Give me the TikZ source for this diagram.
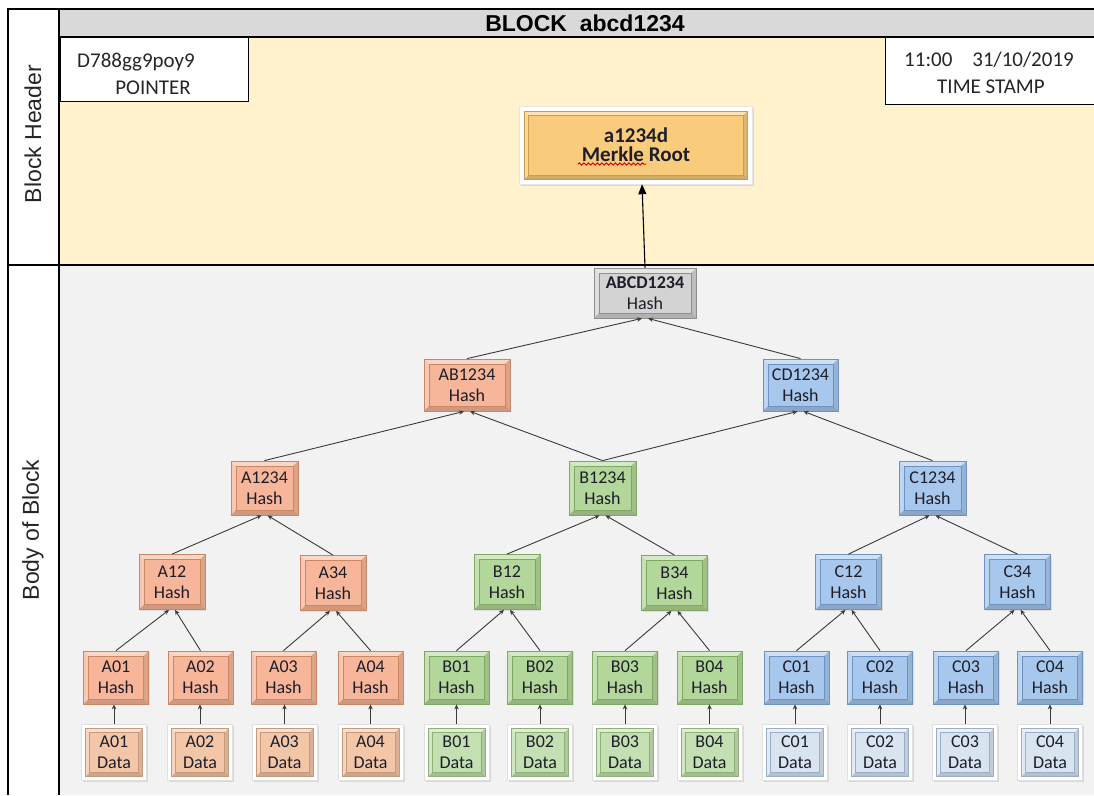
\documentclass[tikz,border=0pt]{standalone}
\usepackage{fontspec}
\setmainfont{Carlito}
\newfontfamily\arialf{Liberation Sans}
\usetikzlibrary{arrows.meta,shadows,calc,decorations.pathmorphing}

\definecolor{titlegray}{HTML}{D9D9D9}
\definecolor{headcream}{HTML}{FFF2CC}
\definecolor{bodygray}{HTML}{F2F2F2}
\definecolor{orH}{HTML}{F7B699}
\definecolor{orE}{HTML}{C98763}
\definecolor{orD}{HTML}{F3C6A8}
\definecolor{orDE}{HTML}{C49A7E}
\definecolor{grH}{HTML}{B3D69A}
\definecolor{grE}{HTML}{7FA863}
\definecolor{grD}{HTML}{C4DFB2}
\definecolor{grDE}{HTML}{8FB078}
\definecolor{blH}{HTML}{A7C8EC}
\definecolor{blE}{HTML}{6E93C2}
\definecolor{blD}{HTML}{D9E4F1}
\definecolor{blDE}{HTML}{9AAEC6}
\definecolor{gyH}{HTML}{D3D3D3}
\definecolor{gyE}{HTML}{8F8F8F}
\definecolor{mrk}{HTML}{F8CC7C}
\definecolor{mrkE}{HTML}{C99C4E}
\definecolor{linec}{HTML}{3A3A3A}
\definecolor{txt}{HTML}{1E1E2A}

% bevelled face: #1 inset from the node border, #2 bevel width, #3 face colour, #4 edge colour
\newcommand\bevelfaces[4]{%
  \coordinate (bsw) at ([shift={(#1pt,#1pt)}]path picture bounding box.south west);
  \coordinate (bne) at ([shift={(-#1pt,-#1pt)}]path picture bounding box.north east);
  \coordinate (bnw) at (bsw|-bne);
  \coordinate (bse) at (bne|-bsw);
  \coordinate (isw) at ([shift={(#2pt,#2pt)}]bsw);
  \coordinate (ine) at ([shift={(-#2pt,-#2pt)}]bne);
  \coordinate (inw) at (isw|-ine);
  \coordinate (ise) at (ine|-isw);
  \fill[#3] (bsw) rectangle (bne);
  \fill[white,opacity=.45] (bnw)--(bne)--(ine)--(inw)--cycle;
  \fill[white,opacity=.25] (bnw)--(bsw)--(isw)--(inw)--cycle;
  \fill[black,opacity=.16] (bsw)--(bse)--(ise)--(isw)--cycle;
  \fill[black,opacity=.10] (bse)--(bne)--(ine)--(ise)--cycle;
  \draw[#4,line width=.5pt] (isw) rectangle (ine);
  \draw[#4,line width=.8pt] (bsw) rectangle (bne);
}

\begin{document}
\begin{tikzpicture}[x=1pt,y=-1pt,
  tree/.style={rectangle, align=center, inner sep=0pt, text=txt,
    font=\fontsize{18}{21}\selectfont},
  bev/.style n args={4}{tree, fill=#1, draw=#2, line width=.8pt,
    minimum width=#3, minimum height=#4,
    drop shadow={shadow xshift=1pt, shadow yshift=-1pt, opacity=.18},
    path picture={\bevelfaces{0}{5}{#1}{#2}}},
  dat/.style 2 args={tree, fill=white, draw=black!12, line width=.4pt,
    minimum width=65, minimum height=56,
    drop shadow={shadow xshift=1.5pt, shadow yshift=-1.5pt, opacity=.22},
    path picture={\bevelfaces{4}{4}{#1}{#2}}},
  link/.style={draw=linec, line width=.9pt, -{Stealth[length=5pt,width=4.5pt]}},
  rootlink/.style={draw=black, line width=1.1pt, -{Triangle[length=10pt,width=8pt]}},
  frame/.style={line width=1.3pt},
  boxtext/.style={inner sep=0pt, font=\fontsize{21}{24}\selectfont, text=black!85},
  sidelabel/.style={rotate=90, font=\arialf\fontsize{23}{26}\selectfont, text=black!85}
]
\useasboundingbox (0,0) rectangle (1094,795);

% panels of the block
\fill[white] (0,0) rectangle (1094,795);
\fill[titlegray] (59,9) rectangle (1094,37);
\fill[headcream] (59,37) rectangle (1094,265);
\fill[bodygray] (59,265) rectangle (1094,795);
\draw[line width=2pt] (8,795) -- (8,9) -- (1094,9);
\draw[frame] (59,9) -- (59,795);
\draw[frame] (59,37) -- (1094,37);
\draw[frame] (8,265) -- (1094,265);

\node[font=\arialf\bfseries\fontsize{23}{26}\selectfont] (title) at (585,23) {BLOCK\ \ abcd1234};
\node[sidelabel] (hdrlabel) at (33,134) {Block Header};
\node[sidelabel] (bodylabel) at (33,530) {Body of Block};

% pointer and time stamp fields
\node[draw, line width=1pt, fill=white, minimum width=188, minimum height=64,
  anchor=north west, inner sep=0pt] (ptr) at (60,37) {};
\node[boxtext, anchor=base west] (ptrid) at (77,67) {D788gg9poy9};
\node[boxtext, anchor=base] (ptrlabel) at (153,94) {POINTER};
\node[draw, line width=1pt, fill=white, minimum width=210, minimum height=67,
  anchor=north west, inner sep=0pt] (ts) at (885,37) {};
\node[boxtext, anchor=base] (tstime) at (989,66) {11:00\hspace{20pt}31/10/2019};
\node[boxtext, anchor=base] (tslabel) at (991,93) {TIME STAMP};

% Merkle root
\node[tree, fill=white, draw=black!10, line width=.4pt, minimum width=233, minimum height=78,
  drop shadow={shadow xshift=1.5pt, shadow yshift=-1.5pt, opacity=.22},
  path picture={\bevelfaces{5}{4}{mrk}{mrkE}},
  font=\bfseries\fontsize{21}{19}\selectfont] (mr) at (636,145) {a1234d\\Merkle Root};
\draw[red!85!black, line width=1pt, decorate,
  decoration={snake, amplitude=1.1pt, segment length=4.5pt}]
  ($(mr.center)+(-58,19)$) -- ($(mr.center)+(10,19)$);

% tree of hashes
\node[bev={gyH}{gyE}{102}{50}] (abcd) at (645,293) {\textbf{ABCD1234}\\Hash};

\node[bev={orH}{orE}{86}{52}] (ab) at (467,385) {AB1234\\Hash};
\node[bev={blH}{blE}{75}{52}] (cd) at (800.5,385) {CD1234\\Hash};

\node[bev={orH}{orE}{67}{54}] (a1234) at (264.5,488) {A1234\\Hash};
\node[bev={grH}{grE}{67}{54}] (b1234) at (602.5,488) {B1234\\Hash};
\node[bev={blH}{blE}{67}{54}] (c1234) at (932.5,488) {C1234\\Hash};

\node[bev={orH}{orE}{66}{55}] (a12) at (172,582) {A12\\Hash};
\node[bev={orH}{orE}{66}{55}] (a34) at (333,583) {A34\\Hash};
\node[bev={grH}{grE}{66}{55}] (b12) at (507,582) {B12\\Hash};
\node[bev={grH}{grE}{66}{55}] (b34) at (674.5,583) {B34\\Hash};
\node[bev={blH}{blE}{66}{55}] (c12) at (848.5,582) {C12\\Hash};
\node[bev={blH}{blE}{66}{55}] (c34) at (1017.5,582) {C34\\Hash};

\node[bev={orH}{orE}{65}{53}] (a01h) at (116,677.5) {A01\\Hash};
\node[bev={orH}{orE}{65}{53}] (a02h) at (200.5,677.5) {A02\\Hash};
\node[bev={orH}{orE}{65}{53}] (a03h) at (283.5,677.5) {A03\\Hash};
\node[bev={orH}{orE}{65}{53}] (a04h) at (370.5,677.5) {A04\\Hash};
\node[bev={grH}{grE}{65}{53}] (b01h) at (456.5,677.5) {B01\\Hash};
\node[bev={grH}{grE}{65}{53}] (b02h) at (540,677.5) {B02\\Hash};
\node[bev={grH}{grE}{65}{53}] (b03h) at (625,677.5) {B03\\Hash};
\node[bev={grH}{grE}{65}{53}] (b04h) at (709.5,677.5) {B04\\Hash};
\node[bev={blH}{blE}{65}{53}] (c01h) at (796.5,677.5) {C01\\Hash};
\node[bev={blH}{blE}{65}{53}] (c02h) at (880,677.5) {C02\\Hash};
\node[bev={blH}{blE}{65}{53}] (c03h) at (966,677.5) {C03\\Hash};
\node[bev={blH}{blE}{65}{53}] (c04h) at (1050,677.5) {C04\\Hash};

% data blocks
\node[dat={orD}{orDE}] (a01d) at (114,752.5) {A01\\Data};
\node[dat={orD}{orDE}] (a02d) at (200,752.5) {A02\\Data};
\node[dat={orD}{orDE}] (a03d) at (284.5,752.5) {A03\\Data};
\node[dat={orD}{orDE}] (a04d) at (370.5,752.5) {A04\\Data};
\node[dat={grD}{grDE}] (b01d) at (456.5,752.5) {B01\\Data};
\node[dat={grD}{grDE}] (b02d) at (540,752.5) {B02\\Data};
\node[dat={grD}{grDE}] (b03d) at (625,752.5) {B03\\Data};
\node[dat={grD}{grDE}] (b04d) at (709.5,752.5) {B04\\Data};
\node[dat={blD}{blDE}] (c01d) at (795,752.5) {C01\\Data};
\node[dat={blD}{blDE}] (c02d) at (880,752.5) {C02\\Data};
\node[dat={blD}{blDE}] (c03d) at (965,752.5) {C03\\Data};
\node[dat={blD}{blDE}] (c04d) at (1050,752.5) {C04\\Data};

% data -> leaf hashes
\foreach \n in {a01,a02,a03,a04,b01,b02,b03,b04,c01,c02,c03,c04}
  \draw[link] (\n d.north) -- (\n h.south -| \n d.north);

% leaf hashes -> pair hashes
\draw[link] (a01h.north) -- ([xshift=-3pt]a12.south);
\draw[link] (a02h.north) -- ([xshift=3pt]a12.south);
\draw[link] (a03h.north) -- ([xshift=-3pt]a34.south);
\draw[link] (a04h.north) -- ([xshift=3pt]a34.south);
\draw[link] (b01h.north) -- ([xshift=-3pt]b12.south);
\draw[link] (b02h.north) -- ([xshift=3pt]b12.south);
\draw[link] (b03h.north) -- ([xshift=-3pt]b34.south);
\draw[link] (b04h.north) -- ([xshift=3pt]b34.south);
\draw[link] (c01h.north) -- ([xshift=-3pt]c12.south);
\draw[link] (c02h.north) -- ([xshift=3pt]c12.south);
\draw[link] (c03h.north) -- ([xshift=-3pt]c34.south);
\draw[link] (c04h.north) -- ([xshift=3pt]c34.south);

% pair hashes -> group hashes
\draw[link] (a12.north) -- ([xshift=-3pt]a1234.south);
\draw[link] (a34.north) -- ([xshift=3pt]a1234.south);
\draw[link] (b12.north) -- ([xshift=-3pt]b1234.south);
\draw[link] (b34.north) -- ([xshift=3pt]b1234.south);
\draw[link] (c12.north) -- ([xshift=-3pt]c1234.south);
\draw[link] (c34.north) -- ([xshift=3pt]c1234.south);

% group hashes -> upper hashes
\draw[link] (a1234.north) -- ([xshift=-3pt]ab.south);
\draw[link] (b1234.north) -- ([xshift=3pt]ab.south);
\draw[link] (b1234.north) -- ([xshift=-3pt]cd.south);
\draw[link] (c1234.north) -- ([xshift=3pt]cd.south);

\draw[link] (ab.north) -- ([xshift=-3pt]abcd.south);
\draw[link] (cd.north) -- ([xshift=3pt]abcd.south);

% top hash -> Merkle root
\draw[rootlink] (abcd.north) -- ([xshift=6pt]mr.south);
\end{tikzpicture}
\end{document}
